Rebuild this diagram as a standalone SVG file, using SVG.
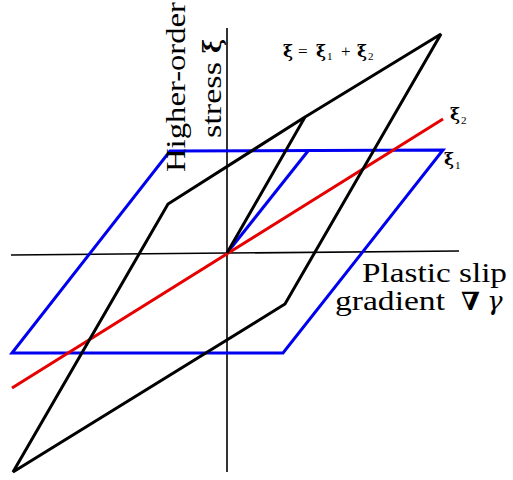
<svg xmlns="http://www.w3.org/2000/svg" width="513" height="480" viewBox="0 0 513 480">
<style>
.ax{stroke:#000;stroke-width:1.6;fill:none}
.blk{stroke:#000;stroke-width:3;fill:none;stroke-linejoin:miter}
.blu{stroke:#0000f0;stroke-width:3;fill:none}
.red{stroke:#e60000;stroke-width:3;fill:none}
text{font-family:"Liberation Serif","DejaVu Serif",serif;fill:#000}
.big{font-size:28px}
.sm{font-size:17px}
.g{font-family:"DejaVu Serif","Liberation Serif",serif}
.b{font-weight:bold}
</style>
<rect width="513" height="480" fill="#fff"/>
<g id="connectors">
<g id="axes">
<line class="ax" x1="11" y1="255" x2="459" y2="251"/>
<line class="ax" x1="227" y1="28" x2="227" y2="472"/>
</g>
<g id="xi1">
<path class="blu" d="M12,353 L170,151 L443,150 L283,353 Z"/>
<path class="blu" d="M227,253 L308,151"/>
</g>
<g id="xi2">
<path class="red" d="M12,388 L443,119"/>
</g>
<g id="xi">
<path class="blk" d="M227,253 L305,117 L441,34 L285,304 L13,472 L168,204 L305,117"/>
</g>
</g>
<g id="ylabel">
<text class="big" transform="translate(185,172) rotate(-90)" textLength="170" lengthAdjust="spacingAndGlyphs">Higher-order</text>
<text class="big" transform="translate(221,138) rotate(-90)"><tspan textLength="76" lengthAdjust="spacingAndGlyphs">stress</tspan><tspan class="g b" x="85" font-size="24">ξ</tspan></text>
</g>
<g id="xlabel">
<text class="big" x="362" y="282" textLength="145" lengthAdjust="spacingAndGlyphs">Plastic slip</text>
<text class="big" x="335" y="310"><tspan textLength="110" lengthAdjust="spacingAndGlyphs">gradient</tspan><tspan class="g b" x="461" font-size="25">∇</tspan><tspan class="g" x="487" font-size="26" font-style="italic">γ</tspan></text>
</g>
<g id="label-sum">
<text class="sm" y="57"><tspan class="g b" x="283">ξ</tspan><tspan x="298">=</tspan><tspan class="g b" x="316">ξ</tspan><tspan x="327" dy="3" font-size="11">1</tspan><tspan x="341" dy="-3">+</tspan><tspan class="g b" x="357">ξ</tspan><tspan x="368" dy="3" font-size="11">2</tspan></text>
</g>
<g id="label-xi2">
<text class="sm" y="120"><tspan class="g b" x="450">ξ</tspan><tspan x="461" dy="4" font-size="11">2</tspan></text>
</g>
<g id="label-xi1">
<text class="sm" y="165"><tspan class="g b" x="444">ξ</tspan><tspan x="455" dy="4" font-size="11">1</tspan></text>
</g>
</svg>
